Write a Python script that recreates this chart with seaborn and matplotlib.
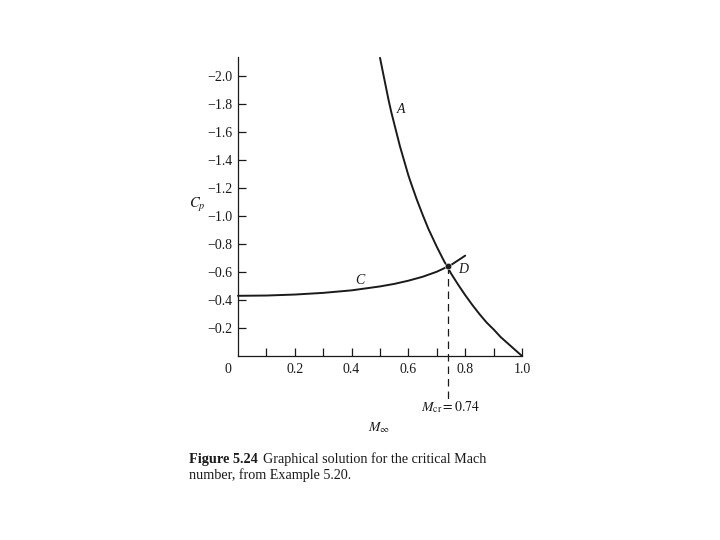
import numpy as np
import pandas as pd
import matplotlib
matplotlib.use('Agg')
import matplotlib.pyplot as plt
import seaborn as sns

# curve A: critical pressure coefficient vs free-stream Mach number
mach_a = [0.50, 0.51, 0.52, 0.53, 0.54, 0.55, 0.56, 0.57, 0.58, 0.59, 0.60, 0.61, 0.63,
          0.65, 0.67, 0.70, 0.725, 0.75, 0.775, 0.80, 0.825, 0.85, 0.875, 0.90, 0.925,
          0.95, 0.975, 1.00]
cp_a = [-2.13, -2.03, -1.93, -1.83, -1.74, -1.66, -1.58, -1.50, -1.43, -1.36, -1.29, -1.23,
        -1.115, -1.01, -0.91, -0.78, -0.68, -0.59, -0.51, -0.435, -0.365, -0.30, -0.24,
        -0.19, -0.135, -0.09, -0.045, 0.0]

# curve C: compressible Cp at the minimum-pressure point
mach_c = [0.0, 0.1, 0.2, 0.3, 0.4, 0.5, 0.55, 0.6, 0.65, 0.7, 0.75, 0.8]
cp_c = [-0.43, -0.432, -0.439, -0.451, -0.469, -0.497, -0.515, -0.538, -0.566, -0.602, -0.650, -0.717]

# point D
m_cr = 0.74
cp_d = -0.64

sns.set_theme(style='white')
plt.rcParams['font.family'] = ['Liberation Serif', 'DejaVu Serif']
plt.rcParams['mathtext.fontset'] = 'stix'

ink = '#1a1a1a'

fig = plt.figure(figsize=(7.2, 5.4), dpi=100)
ax = fig.add_axes([238 / 720, 1 - 356 / 540, 284 / 720, 299 / 540])

df_a = pd.DataFrame({'M': mach_a, 'Cp': cp_a})
df_c = pd.DataFrame({'M': mach_c, 'Cp': cp_c})
sns.lineplot(data=df_a, x='M', y='Cp', color=ink, lw=1.4, ax=ax, clip_on=False)
sns.lineplot(data=df_c, x='M', y='Cp', color=ink, lw=1.4, ax=ax, clip_on=False)
sns.scatterplot(x=[m_cr], y=[cp_d], color=ink, s=22, ax=ax, zorder=5, clip_on=False)

# dashed drop line from D down past the axis
ax.plot([m_cr, m_cr], [cp_d, 0.31], color=ink, lw=0.9, ls=(0, (6, 4)), clip_on=False)

ax.set_xlim(0, 1.0)
ax.set_ylim(0, -2.136)
ax.set_xlabel('')
ax.set_ylabel('')

ax.set_xticks([0.2, 0.4, 0.6, 0.8, 1.0])
ax.set_xticklabels(['0.2', '0.4', '0.6', '0.8', '1.0'])
ax.set_xticks(np.arange(0.1, 1.0, 0.2), minor=True)
ax.set_yticks([-0.2, -0.4, -0.6, -0.8, -1.0, -1.2, -1.4, -1.6, -1.8, -2.0])
ax.set_yticklabels(['\u22120.2', '\u22120.4', '\u22120.6', '\u22120.8', '\u22121.0',
                    '\u22121.2', '\u22121.4', '\u22121.6', '\u22121.8', '\u22122.0'])
ax.tick_params(axis='both', which='both', direction='in', length=6, width=0.9,
               color=ink, labelsize=10, labelcolor=ink, bottom=True, left=True)
ax.tick_params(axis='x', pad=5)
ax.tick_params(axis='y', pad=4)

for s in ['top', 'right']:
    ax.spines[s].set_visible(False)
for s in ['left', 'bottom']:
    ax.spines[s].set_color(ink)
    ax.spines[s].set_linewidth(0.9)

# labels on the plot
ax.annotate('0', xy=(0, 0), xytext=(-7, -10), textcoords='offset points',
            ha='center', va='center', fontsize=10, color=ink)
ax.text(0.575, -1.76, 'A', style='italic', fontsize=10, ha='center', va='center', color=ink)
ax.text(0.43, -0.54, 'C', style='italic', fontsize=10, ha='center', va='center', color=ink)
ax.text(0.792, -0.615, 'D', style='italic', fontsize=10, ha='center', va='center', color=ink)
ax.text(0.75, 0.365, r'$M_{\mathrm{cr}} = 0.74$', fontsize=10, ha='center', va='center',
        color=ink, clip_on=False)
ax.text(0.497, 0.51, r'$M_\infty$', fontsize=10, ha='center', va='center',
        color=ink, clip_on=False)
fig.text(197 / 720, 1 - 205 / 540, r'$C_p$', fontsize=10.5, ha='center', va='center', color=ink)

# caption
fig.text(189 / 720, 1 - 459 / 540, 'Figure 5.24', fontsize=10.3, fontweight='bold',
         ha='left', va='center', color=ink)
fig.text(263 / 720, 1 - 459 / 540, 'Graphical solution for the critical Mach', fontsize=10.2,
         ha='left', va='center', color=ink)
fig.text(189 / 720, 1 - 475 / 540, 'number, from Example 5.20.', fontsize=10.2,
         ha='left', va='center', color=ink)

fig.savefig('out.png', dpi=100)
